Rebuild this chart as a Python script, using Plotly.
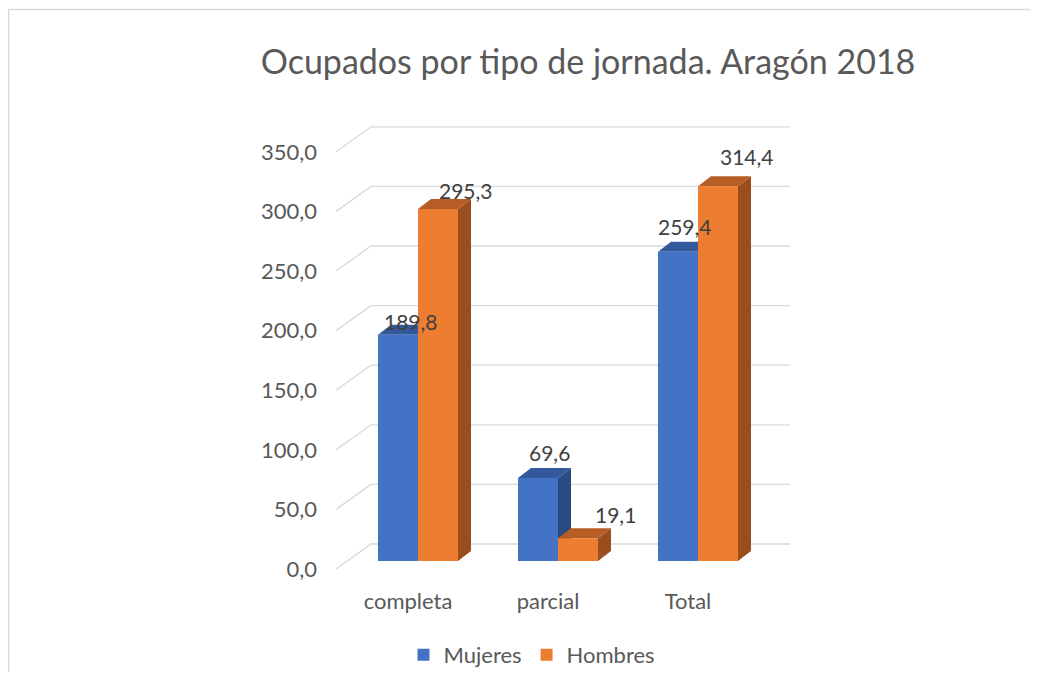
import plotly.graph_objects as go

# ---- data ----
categories = ["completa", "parcial", "Total"]
mujeres = [189.8, 69.6, 259.4]
hombres = [295.3, 19.1, 314.4]
series_names = ["Mujeres", "Hombres"]
y_ticks = [0, 50, 100, 150, 200, 250, 300, 350]
title_text = "Ocupados por tipo de jornada. Aragón 2018"

# ---- layout geometry (screen pixels; page body adds an 8px margin) ----
OFF = 8
W, H = 1022, 664          # keeps page inside the window (no scrollbars)
Ls, Rs, Ts, Bs = 330, 808, 108, 581   # plot area in screen px
L, R, T, B = Ls - OFF, Rs - OFF, Ts - OFF, Bs - OFF
KY = 1.192          # px per unit
Y0s = 561           # bar front baseline (screen px)
KX = 140.0          # px per category
X0s = 418           # screen px of category 0 center

def py(p):   # screen px -> y data
    return (Y0s - p) / KY

def px(p):   # screen px -> x data
    return (p - X0s) / KX

yr = [py(Bs), py(Ts)]
xr = [px(Ls), px(Rs)]

bw = 40 / KX
DX = 13 / KX
DY = 10 / KY

cols = {
    "Mujeres": ("#4472C4", "#33589B", "#2B4A80"),
    "Hombres": ("#ED7D31", "#B65C24", "#9A4E1D"),
}

fig = go.Figure()
xs = list(range(len(categories)))
offsets = {"Mujeres": -bw, "Hombres": 0.0}
for name, vals in zip(series_names, [mujeres, hombres]):
    fig.add_trace(go.Bar(
        x=xs, y=vals, name=name, offset=offsets[name], width=bw,
        marker=dict(color=cols[name][0], line=dict(width=0)),
        hoverinfo="skip",
    ))

shapes = []
# outer frame: top and left edges only visible (as in the reference)
fx0 = (8.5 - Ls) / (Rs - Ls)
fy1 = (Bs - 9.5) / (Bs - Ts)
shapes.append(dict(type="path", xref="paper", yref="paper",
                   path=f"M {fx0},{(Bs - 760) / (Bs - Ts)} L {fx0},{fy1} L {(1100 - Ls) / (Rs - Ls)},{fy1}",
                   line=dict(color="#D9D9D9", width=1.5), layer="below"))
# gridlines (back wall + side diagonal)
bx_l, bx_r, fx_l = px(371), px(790), px(336)
back_off = (Y0s - 544) / KY
front_off = (Y0s - 569) / KY
for v in y_ticks:
    shapes.append(dict(type="path", xref="x", yref="y",
                       path=f"M {fx_l},{v + front_off} L {bx_l},{v + back_off} L {bx_r},{v + back_off}",
                       line=dict(color="#D9D9D9", width=1.3), layer="below"))
# 3D faces
for name, vals in zip(series_names, [mujeres, hombres]):
    front, top, side = cols[name]
    for i, v in enumerate(vals):
        xl = i + offsets[name]
        xrr = xl + bw
        shapes.append(dict(type="path", xref="x", yref="y",
                           path=f"M {xrr},0 L {xrr + DX},{DY} L {xrr + DX},{v + DY} L {xrr},{v} Z",
                           fillcolor=side, line=dict(width=0), layer="below"))
        shapes.append(dict(type="path", xref="x", yref="y",
                           path=f"M {xl},{v} L {xl + DX},{v + DY} L {xrr + DX},{v + DY} L {xrr},{v} Z",
                           fillcolor=top, line=dict(width=0), layer="below"))

# data labels
lab_dx = {"Mujeres": [13, 11, 7], "Hombres": [28, 37, 29]}
lab_dy = {"Mujeres": [13, 26, 25], "Hombres": [19, 24, 30]}
annotations = []
for name, vals in zip(series_names, [mujeres, hombres]):
    for i, v in enumerate(vals):
        annotations.append(dict(
            x=i + offsets[name] + bw / 2, y=v, xref="x", yref="y",
            text=f"{v:.1f}".replace(".", ","), showarrow=False,
            xshift=lab_dx[name][i], yshift=lab_dy[name][i],
            font=dict(family="Lato", size=21, color="#404040"),
        ))

fig.update_layout(
    width=W, height=H,
    margin=dict(l=L, r=W - R, t=T, b=H - B, pad=0, autoexpand=False),
    paper_bgcolor="white", plot_bgcolor="rgba(0,0,0,0)",
    separators=",.",
    title=dict(text=title_text, x=(588 - OFF) / W, xanchor="center",
               y=1 - (62 - OFF) / H, yanchor="middle",
               font=dict(family="Lato", size=34, color="#595959")),
    xaxis=dict(range=xr, tickvals=xs, ticktext=categories, showgrid=False,
               zeroline=False, showline=False, ticks="", ticklabelshift=-10,
               ticklabelstandoff=5, automargin=False,
               tickfont=dict(family="Lato", size=22, color="#595959")),
    yaxis=dict(range=yr, tickvals=y_ticks, tickformat=".1f", showgrid=False,
               zeroline=False, showline=False, ticks="", ticklabelshift=8,
               ticklabelstandoff=12, automargin=False,
               tickfont=dict(family="Lato", size=22, color="#595959")),
    barmode="overlay",
    shapes=shapes,
    annotations=annotations,
    showlegend=True,
    legend=dict(orientation="h", x=(532 - Ls) / (Rs - Ls), xanchor="center",
                y=(Bs - 655) / (Bs - Ts), yanchor="middle",
                font=dict(family="Lato", size=22, color="#595959"),
                itemwidth=30, traceorder="normal"),
)

fig.write_html("out.html")
